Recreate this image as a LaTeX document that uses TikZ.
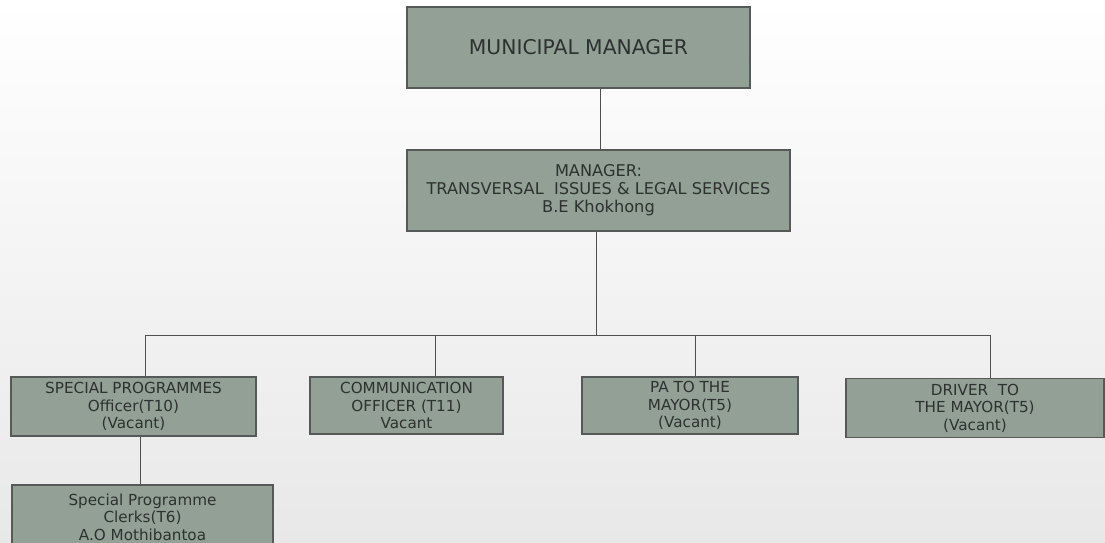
\documentclass[tikz,border=0pt]{standalone}
\usepackage{fontspec}
\setmainfont{DejaVu Sans}
\definecolor{boxfill}{RGB}{146,160,150}
\definecolor{boxline}{RGB}{85,90,88}
\definecolor{txt}{RGB}{45,50,48}
\definecolor{conn}{RGB}{80,80,80}
\begin{document}
\begin{tikzpicture}[x=1pt,y=-1pt,
  orgbox/.style={draw=boxline, line width=1.3pt, fill=boxfill, text=txt, align=center, inner sep=0pt, anchor=center},
  small/.style={font=\fontsize{15.2}{17.5}\selectfont},
  conline/.style={draw=conn, line width=1pt}]
\useasboundingbox (0,0) rectangle (1105,543);
\shade[top color=white, bottom color=black!9] (0,0) rectangle (1105,543);
% nodes
\node[orgbox, minimum width=343pt, minimum height=81pt, font=\fontsize{20.3}{24}\selectfont] (mm) at (578.5,47.5) {MUNICIPAL MANAGER};
\node[orgbox, minimum width=383pt, minimum height=81pt, font=\fontsize{16.2}{18}\selectfont] (mgr) at (598.5,190.5) {MANAGER:\\TRANSVERSAL\ \ ISSUES \& LEGAL SERVICES\\B.E Khokhong};
\node[orgbox, small, minimum width=245pt, minimum height=59pt] (sp) at (133.5,406.5) {SPECIAL PROGRAMMES\\Officer(T10)\\(Vacant)};
\node[orgbox, small, minimum width=193pt, minimum height=57pt] (com) at (406.5,405.5) {COMMUNICATION\\OFFICER (T11)\\Vacant};
\node[orgbox, small, minimum width=216pt, minimum height=57pt] (pa) at (690,405.5) {PA TO THE\\MAYOR(T5)\\(Vacant)};
\node[orgbox, small, minimum width=258pt, minimum height=59pt] (drv) at (975,408) {DRIVER\ \ TO\\THE MAYOR(T5)\\(Vacant)};
\node[orgbox, small, minimum width=261pt, minimum height=64pt] (clk) at (142.5,517) {Special Programme\\Clerks(T6)\\A.O Mothibantoa};
% helper coordinates
\coordinate (xa) at (600,0);
\coordinate (bus) at (596,335);
\coordinate (d1) at (145,335);
\coordinate (d2) at (435,335);
\coordinate (d3) at (695,335);
\coordinate (d4) at (990,335);
\coordinate (xc) at (140,0);
% connectors
\draw[conline] (mm.south -| xa) -- (mgr.north -| xa);
\draw[conline] (mgr.south -| bus) -- (bus);
\draw[conline] (d1) -- (d4);
\draw[conline] (d1) -- (sp.north -| d1);
\draw[conline] (d2) -- (com.north -| d2);
\draw[conline] (d3) -- (pa.north -| d3);
\draw[conline] (d4) -- (drv.north -| d4);
\draw[conline] (sp.south -| xc) -- (clk.north -| xc);
\end{tikzpicture}
\end{document}
